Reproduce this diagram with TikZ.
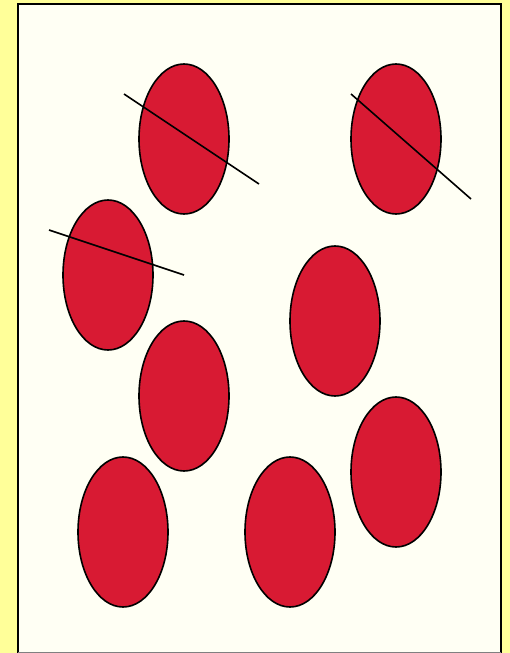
\documentclass[tikz,border=0pt]{standalone}
\definecolor{bgyellow}{HTML}{FFFF99}
\definecolor{paper}{HTML}{FFFFF4}
\definecolor{cellred}{HTML}{D81A33}
\begin{document}
\begin{tikzpicture}[x=1pt,y=-1pt,
  cell/.style={fill=cellred,draw=black,line width=1.6pt},
  cut/.style={draw=black,line width=1.6pt}]
\useasboundingbox (0,0) rectangle (510,653);
\fill[bgyellow] (0,0) rectangle (510,653);
\draw[fill=paper,line width=1.8pt] (18,4) rectangle (501,660);
\draw[gray,line width=1pt] (18,652.5) -- (501,652.5);
\foreach \n/\cx/\cy in {a/184/139, b/396/139, c/108/275, d/335/321, e/184/396, f/396/472, g/123/532, h/290/532}{
  \path[cell] (\cx,\cy) ellipse [x radius=45, y radius=75];
}
\coordinate (l1a) at (124,94); \coordinate (l1b) at (259,184);
\coordinate (l2a) at (351,94); \coordinate (l2b) at (471,199);
\coordinate (l3a) at (49,230); \coordinate (l3b) at (184,275);
\draw[cut] (l1a) -- (l1b);
\draw[cut] (l2a) -- (l2b);
\draw[cut] (l3a) -- (l3b);
\end{tikzpicture}
\end{document}
